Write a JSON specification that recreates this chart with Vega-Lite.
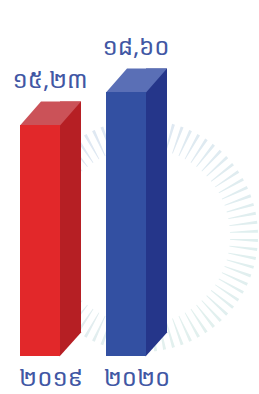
{
  "$schema": "https://vega.github.io/schema/vega-lite/v6.json",
  "width": 126,
  "height": 264,
  "autosize": {"type": "none"},
  "padding": {"left": 20, "top": 92, "right": 113, "bottom": 38},
  "background": "white",
  "config": {"view": {"stroke": null}},
  "datasets": {
    "bars": [
      {"year": "២០១៩", "value": 15.23, "label": "១៥,២៣"},
      {"year": "២០២០", "value": 18.60, "label": "១៨,៦០"}
    ],
    "ring": [
      {"t":0},{"t":1},{"t":2},{"t":3},{"t":4},{"t":5},{"t":6},{"t":7},{"t":8},{"t":9},
      {"t":10},{"t":11},{"t":12},{"t":13},{"t":14},{"t":15},{"t":16},{"t":17},{"t":18},{"t":19},
      {"t":20},{"t":21},{"t":22},{"t":23},{"t":24},{"t":25},{"t":26},{"t":27},{"t":28},{"t":29},
      {"t":30},{"t":31},{"t":32},{"t":33},{"t":34},{"t":35},{"t":36},{"t":37},{"t":38},{"t":39},
      {"t":40},{"t":41},{"t":42},{"t":43},{"t":44},{"t":45},{"t":46},{"t":47},{"t":48},{"t":49},
      {"t":50},{"t":51},{"t":52},{"t":53},{"t":54},{"t":55},{"t":56},{"t":57},{"t":58},{"t":59},
      {"t":60},{"t":61},{"t":62},{"t":63},{"t":64},{"t":65},{"t":66},{"t":67},{"t":68},{"t":69},
      {"t":70},{"t":71},{"t":72},{"t":73},{"t":74},{"t":75},{"t":76},{"t":77},{"t":78},{"t":79}
    ]
  },
  "resolve": {"scale": {"color": "independent", "y": "independent"}},
  "layer": [
    {
      "data": {"name": "ring"},
      "mark": {"type": "arc", "radius": 116, "radius2": 88, "padAngle": 0.042},
      "encoding": {
        "x": {"datum": "២០២០", "type": "nominal", "bandPosition": 0.9,
          "scale": {"domain": ["២០១៩", "២០២០"], "paddingInner": 0.535, "paddingOuter": 0}},
        "y": {"datum": "centre", "type": "nominal", "axis": null,
          "scale": {"type": "point", "padding": 0.5, "align": 0.545}},
        "theta": {"aggregate": "count", "type": "quantitative"},
        "order": {"field": "t", "type": "quantitative"},
        "color": {"field": "t", "type": "quantitative", "legend": null,
          "scale": {"domain": [0, 20, 40, 60, 79], "range": ["#dfe8f2", "#e0efef", "#e3f0ee", "#dfe7f2", "#dfe8f2"], "interpolate": "rgb"}}
      }
    },
    {
      "data": {"name": "bars"},
      "resolve": {"scale": {"color": "independent"}},
      "layer": [
        {
          "mark": {"type": "bar", "width": 21, "xOffset": 30.5, "yOffset": -23.5, "y2Offset": -23.5},
          "encoding": {
            "x": {"field": "year", "type": "nominal", "sort": null,
              "scale": {"domain": ["២០១៩", "២០២០"], "paddingInner": 0.535, "paddingOuter": 0},
              "axis": {"title": null, "domain": false, "ticks": false, "labelAngle": 0, "labelAlign": "center", "labelPadding": 22, "labelOffset": 11,
                "labelFontSize": 24, "labelColor": "#4157a4", "labelFont": "Noto Sans Khmer, sans-serif"}},
            "y": {"field": "value", "type": "quantitative", "axis": null,
              "scale": {"domain": [-8.4, 18.6], "zero": false, "nice": false}},
            "y2": {"datum": -8.4},
            "color": {"field": "year", "type": "nominal", "legend": null,
              "scale": {"domain": ["២០១៩", "២០២០"], "range": ["#b61f24", "#25368a"]}}
          }
        },
        {
          "mark": {"type": "point", "shape": "M0.39,0.01L0.39,-0.48L0.83,-0.48Z", "size": 10000, "filled": true, "opacity": 1, "strokeWidth": 0},
          "encoding": {
            "x": {"field": "year", "type": "nominal", "sort": null},
            "y": {"datum": -8.4, "type": "quantitative"},
            "color": {"field": "year", "type": "nominal", "legend": null,
              "scale": {"domain": ["២០១៩", "២០២០"], "range": ["#b61f24", "#25368a"]}}
          }
        },
        {
          "mark": {"type": "point", "shape": "M-0.4,0.01L0.02,-0.47L0.82,-0.47L0.4,0.01Z", "size": 10000, "filled": true, "opacity": 1, "strokeWidth": 0},
          "encoding": {
            "x": {"field": "year", "type": "nominal", "sort": null},
            "y": {"field": "value", "type": "quantitative"},
            "color": {"field": "year", "type": "nominal", "legend": null,
              "scale": {"domain": ["២០១៩", "២០២០"], "range": ["#cb5258", "#5a6fb6"]}}
          }
        },
        {
          "mark": {"type": "bar"},
          "encoding": {
            "x": {"field": "year", "type": "nominal", "sort": null},
            "y": {"field": "value", "type": "quantitative"},
            "y2": {"datum": -8.4},
            "color": {"field": "year", "type": "nominal", "legend": null,
              "scale": {"domain": ["២០១៩", "២០២០"], "range": ["#e2282a", "#3350a2"]}}
          }
        },
        {
          "mark": {"type": "text", "dx": 10, "dy": -44, "fontSize": 24, "color": "#4157a4", "font": "Noto Sans Khmer, sans-serif", "baseline": "middle"},
          "encoding": {
            "x": {"field": "year", "type": "nominal", "sort": null},
            "y": {"field": "value", "type": "quantitative"},
            "text": {"field": "label"}
          }
        }
      ]
    }
  ]
}
